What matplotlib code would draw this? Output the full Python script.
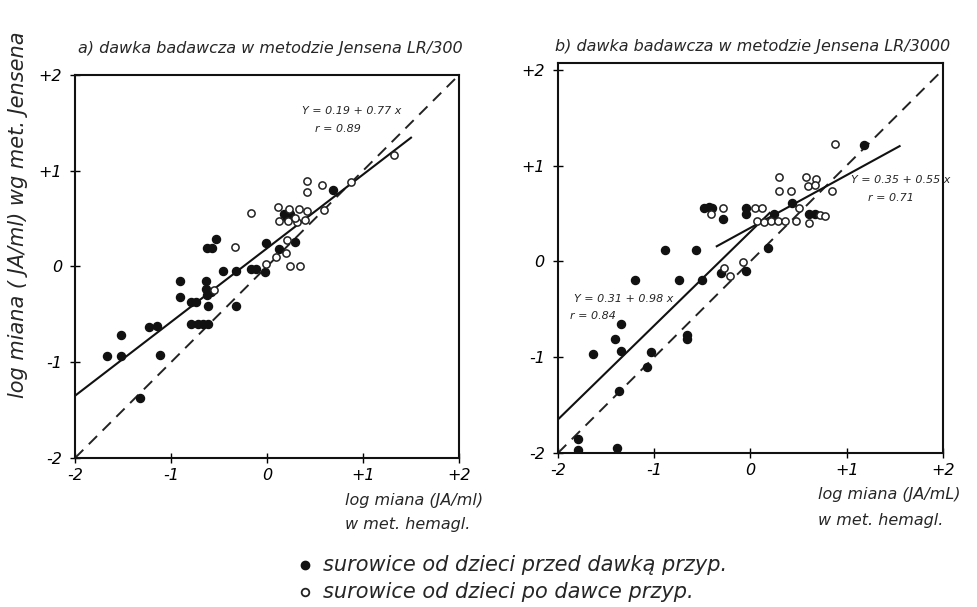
import matplotlib
matplotlib.use("Agg")
import matplotlib.pyplot as plt
from matplotlib.lines import Line2D
import numpy as np

# panel a) LR/300 -- before dose (filled) / after dose (open)
a_pre_x = [-1.67, -1.52, -1.52, -1.32, -1.23, -1.15, -1.12,
           -0.91, -0.91, -0.79, -0.74, -0.79, -0.72, -0.67, -0.61,
           -0.64, -0.64, -0.63, -0.58, -0.61,
           -0.63, -0.57, -0.53, -0.46, -0.32, -0.32,
           -0.17, -0.11, -0.02, -0.01, 0.12, 0.29,
           0.18, 0.24, 0.21, 0.69]
a_pre_y = [-0.94, -0.93, -0.72, -1.37, -0.63, -0.62, -0.92,
           -0.15, -0.32, -0.37, -0.37, -0.60, -0.60, -0.60, -0.60,
           -0.15, -0.24, -0.30, -0.27, -0.41,
           0.19, 0.19, 0.29, -0.05, -0.05, -0.41,
           -0.03, -0.03, -0.06, 0.25, 0.18, 0.26,
           0.55, 0.55, 0.51, 0.80]
a_post_x = [-0.17, -0.33, -0.55, -0.01, 0.09, 0.20, 0.21, 0.24, 0.34,
            0.11, 0.23, 0.33, 0.42, 0.12, 0.22, 0.31, 0.40, 0.29,
            0.42, 0.42, 0.57, 0.59, 0.87, 1.32]
a_post_y = [0.56, 0.20, -0.25, 0.03, 0.10, 0.14, 0.28, 0.01, 0.01,
            0.62, 0.60, 0.60, 0.58, 0.48, 0.48, 0.46, 0.49, 0.51,
            0.89, 0.78, 0.85, 0.59, 0.88, 1.16]

# panel b) LR/3000
b_pre_x = [-1.79, -1.79, -1.39, -1.64, -1.41, -1.34, -1.34, -1.37,
           -1.20, -1.08, -1.03, -0.89, -0.74, -0.66, -0.66, -0.57, -0.50,
           -0.48, -0.43, -0.40, -0.28, -0.31,
           -0.05, -0.05, -0.05, 0.18, 0.24, 0.43, 0.61, 0.67, 1.18]
b_pre_y = [-1.85, -1.97, -1.95, -0.97, -0.81, -0.65, -0.94, -1.35,
           -0.19, -1.10, -0.95, 0.12, -0.19, -0.77, -0.81, 0.12, -0.19,
           0.56, 0.57, 0.56, 0.44, -0.12,
           0.56, 0.49, -0.10, 0.14, 0.49, 0.61, 0.49, 0.49, 1.21]
b_post_x = [-0.28, -0.41, 0.05, 0.12,
            0.07, 0.14, 0.21, 0.29, 0.36, 0.47,
            0.30, 0.30, 0.42, 0.58, 0.68, 0.60, 0.67,
            0.50, 0.61, 0.72, 0.78, 0.85, 0.88,
            -0.27, -0.21, -0.08]
b_post_y = [0.56, 0.49, 0.56, 0.56,
            0.42, 0.41, 0.42, 0.42, 0.42, 0.42,
            0.88, 0.73, 0.73, 0.88, 0.86, 0.79, 0.80,
            0.56, 0.40, 0.48, 0.47, 0.73, 1.22,
            -0.07, -0.15, -0.01]

# regression lines: (intercept, slope, x from, x to)
a_fit = (0.19, 0.77, -2.0, 1.5)
b_fit_low = (0.31, 0.98, -2.0, 0.2)
b_fit_high = (0.35, 0.55, -0.35, 1.55)

ticks = [-2, -1, 0, 1, 2]
tick_labels = ["-2", "-1", "0", "+1", "+2"]

TXT = dict(style="italic", family="DejaVu Sans", color="#262626")

fig = plt.figure(figsize=(9.77, 6.07), dpi=100)


def panel(rect, ylim, pre_x, pre_y, post_x, post_y, fits):
    ax = fig.add_axes(rect)
    ax.set_xlim(-2, 2)
    ax.set_ylim(*ylim)
    ax.plot([-2, 2.1], [-2, 2.1], color="#222222", lw=1.4, ls=(0, (6, 4)))
    for b0, b1, x0, x1 in fits:
        xx = np.array([x0, x1])
        ax.plot(xx, b0 + b1 * xx, color="#111111", lw=1.5)
    ax.plot(pre_x, pre_y, "o", ms=5.8, color="#111111", ls="none")
    ax.plot(post_x, post_y, "o", ms=5.2, mfc="white", mec="#222222", mew=1.1, ls="none")
    ax.set_xticks(ticks)
    ax.set_yticks(ticks)
    ax.set_xticklabels(tick_labels)
    ax.set_yticklabels(tick_labels)
    ax.tick_params(direction="inout", length=7, width=1, labelsize=11.5)
    ax.tick_params(axis="x", pad=4)
    ax.tick_params(axis="y", pad=6)
    for lab in ax.get_xticklabels() + ax.get_yticklabels():
        lab.set_fontstyle("italic")
    for s in ax.spines.values():
        s.set_linewidth(1.5)
        s.set_color("#111111")
    return ax


ax1 = panel([0.0768, 0.2455, 0.393, 0.631], (-1.93, 2.0),
            a_pre_x, a_pre_y, a_post_x, a_post_y, [a_fit])
ax2 = panel([0.5711, 0.2537, 0.394, 0.6425], (-2.0, 2.07),
            b_pre_x, b_pre_y, b_post_x, b_post_y, [b_fit_low, b_fit_high])

ax1.text(0.36, 1.59, "Y = 0.19 + 0.77 x", fontsize=8, **TXT)
ax1.text(0.50, 1.40, "r = 0.89", fontsize=8, **TXT)
ax2.text(1.05, 0.82, "Y = 0.35 + 0.55 x", fontsize=8, **TXT)
ax2.text(1.22, 0.63, "r = 0.71", fontsize=8, **TXT)
ax2.text(-1.83, -0.42, "Y = 0.31 + 0.98 x", fontsize=8, **TXT)
ax2.text(-1.88, -0.60, "r = 0.84", fontsize=8, **TXT)

fig.text(78 / 977, 1 - 48 / 607, "a) dawka badawcza w metodzie Jensena LR/300",
         fontsize=11.5, va="center", **TXT)
fig.text(555 / 977, 1 - 46 / 607, "b) dawka badawcza w metodzie Jensena LR/3000",
         fontsize=11.5, va="center", **TXT)

fig.text(18 / 977, 1 - 398 / 607, "log miana ( JA/ml) wg met. Jensena",
         rotation=90, fontsize=15, ha="center", va="bottom", **TXT)

fig.text(345 / 977, 1 - 500 / 607, "log miana (JA/ml)", fontsize=11.5, va="center", **TXT)
fig.text(345 / 977, 1 - 525 / 607, "w met. hemagl.", fontsize=11.5, va="center", **TXT)
fig.text(818 / 977, 1 - 495 / 607, "log miana (JA/mL)", fontsize=11.5, va="center", **TXT)
fig.text(818 / 977, 1 - 520 / 607, "w met. hemagl.", fontsize=11.5, va="center", **TXT)

# legend
fig.add_artist(Line2D([305 / 977], [1 - 565 / 607], marker="o", ms=6, color="#111111",
                      ls="none", transform=fig.transFigure))
fig.add_artist(Line2D([305 / 977], [1 - 592 / 607], marker="o", ms=5.5, mfc="white",
                      mec="#222222", mew=1.3, ls="none", transform=fig.transFigure))
fig.text(323 / 977, 1 - 565 / 607, "surowice od dzieci przed dawką przyp.",
         fontsize=15, va="center", **TXT)
fig.text(323 / 977, 1 - 592 / 607, "surowice od dzieci po dawce przyp.",
         fontsize=15, va="center", **TXT)

fig.savefig("out.png", dpi=100, facecolor="white")
